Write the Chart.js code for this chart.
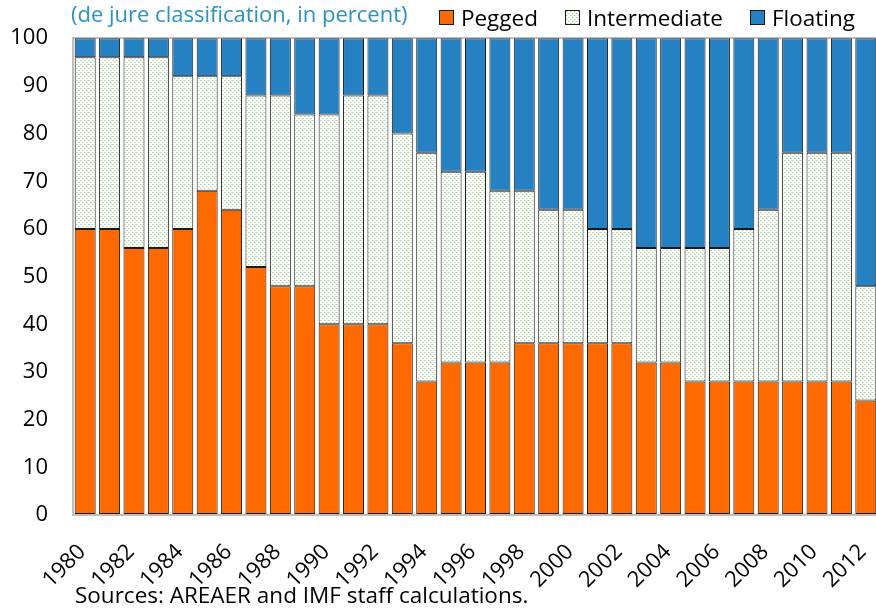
<!DOCTYPE html>
<html>
<head>
<meta charset="utf-8">
<script src="https://cdn.jsdelivr.net/npm/chart.js@4/dist/chart.umd.min.js"></script>
<style>
html,body{margin:0;padding:0;background:#fff;overflow:hidden;}
#wrap{position:relative;width:876px;height:611px;overflow:hidden;}
#box{position:absolute;left:0;top:0;width:878px;height:592px;}
#title{position:absolute;left:71px;top:-2px;font-family:"Open Sans",sans-serif;font-size:22px;color:#2a93c4;white-space:nowrap;}
#legend{position:absolute;right:21px;top:2px;display:flex;align-items:center;font-family:"Open Sans",sans-serif;font-size:22.5px;color:#000;white-space:nowrap;}
#legend .it{display:flex;align-items:center;margin-left:27px;}
#legend .sw{width:13px;height:13px;border:1px solid #1a1a1a;margin-right:7px;}
#src{position:absolute;left:75px;top:579px;font-family:"Open Sans",sans-serif;font-size:22.5px;color:#000;white-space:nowrap;}
</style>
</head>
<body>
<div id="wrap">
<div id="box"><canvas id="c"></canvas></div>
<div id="title">(de jure classification, in percent)</div>
<div id="legend"></div>
<div id="src">Sources: AREAER and IMF staff calculations.</div>
</div>
<script>
const years = ["1980","1981","1982","1983","1984","1985","1986","1987","1988","1989","1990","1991","1992","1993","1994","1995","1996","1997","1998","1999","2000","2001","2002","2003","2004","2005","2006","2007","2008","2009","2010","2011","2012"];
const pegged =       [60,60,56,56,60,68,64,52,48,48,40,40,40,36,28,32,32,32,36,36,36,36,36,32,32,28,28,28,28,28,28,28,24];
const intermediate = [36,36,40,40,32,24,28,36,40,36,44,48,48,44,48,40,40,36,32,28,28,24,24,24,24,28,28,32,36,48,48,48,24];
const floating =     [4,4,4,4,8,8,8,12,12,16,16,12,12,20,24,28,28,32,32,36,36,40,40,44,44,44,44,40,36,24,24,24,52];
const seriesNames = ["Pegged","Intermediate","Floating"];
const yTicks = [0,10,20,30,40,50,60,70,80,90,100];

function makePatternCanvas(){
  const p = document.createElement('canvas');
  p.width = 4; p.height = 4;
  const g = p.getContext('2d');
  g.fillStyle = '#ffffff'; g.fillRect(0,0,4,4);
  g.fillStyle = '#a9d69b';
  g.fillRect(0,0,1,1);
  g.fillRect(2,2,1,1);
  g.fillStyle = '#d3ebcb';
  g.fillRect(1,0,1,1);
  g.fillRect(3,2,1,1);
  return p;
}
const patCanvas = makePatternCanvas();
const ctx = document.getElementById('c').getContext('2d');
const pat = ctx.createPattern(patCanvas,'repeat');

const chart = new Chart(ctx, {
  type: 'bar',
  data: {
    labels: years,
    datasets: [
      {label:seriesNames[0], data: pegged, backgroundColor:'#ff6a00', borderColor:'#1a1a1a', borderWidth:1, borderSkipped:false},
      {label:seriesNames[1], data: intermediate, backgroundColor: pat, borderColor:'#1a1a1a', borderWidth:1, borderSkipped:false},
      {label:seriesNames[2], data: floating, backgroundColor:'#2681c2', borderColor:'#1a1a1a', borderWidth:1, borderSkipped:false}
    ]
  },
  options: {
    responsive: true,
    maintainAspectRatio: false,
    animation: false,
    layout: {padding: {left: 0, right: 0, top: 36, bottom: 0}},
    datasets: {bar: {barPercentage: 0.86, categoryPercentage: 1.0}},
    plugins: {
      title: {display:false},
      tooltip: {enabled:false},
      legend: {display:false}
    },
    scales: {
      x: {
        stacked: true,
        grid: {display:false, drawTicks:false},
        border: {display:true, color:'#bdbdbd', width:2},
        ticks: {
          autoSkip:false, maxRotation:45, minRotation:45, padding: 24, labelOffset: -3, color:'#000',
          font: {family: '"Open Sans", sans-serif', size: 22},
          callback(v, i){ return i % 2 === 0 ? years[i] : ''; }
        },
        afterCalculateLabelRotation(axis){ axis.labelRotation = 45; },
        afterFit(axis){ axis.height = 77; axis.paddingLeft = 0; axis.paddingRight = 0; }
      },
      y: {
        stacked: true, min: 0, max: 100,
        afterBuildTicks(axis){ axis.ticks = yTicks.map(v=>({value:v})); },
        afterFit(axis){ axis.width = 73; },
        grid: {
          drawTicks:false,
          color(c){ return c.tick && c.tick.value === 100 ? '#bdbdbd' : 'rgba(0,0,0,0)'; },
          lineWidth: 2
        },
        border: {display:true, color:'#bdbdbd', width:2},
        ticks: {color:'#000', padding: 25, font: {family: '"Open Sans", sans-serif', size: 22}}
      }
    }
  }
});

// HTML legend built from the chart's datasets
const lg = document.getElementById('legend');
chart.data.datasets.forEach(ds => {
  const it = document.createElement('div'); it.className = 'it';
  const sw = document.createElement('div'); sw.className = 'sw';
  if (ds.backgroundColor === pat) {
    sw.style.backgroundImage = 'url(' + patCanvas.toDataURL() + ')';
  } else {
    sw.style.background = ds.backgroundColor;
  }
  const tx = document.createElement('span'); tx.textContent = ds.label;
  it.appendChild(sw); it.appendChild(tx); lg.appendChild(it);
});
</script>
</body>
</html>
